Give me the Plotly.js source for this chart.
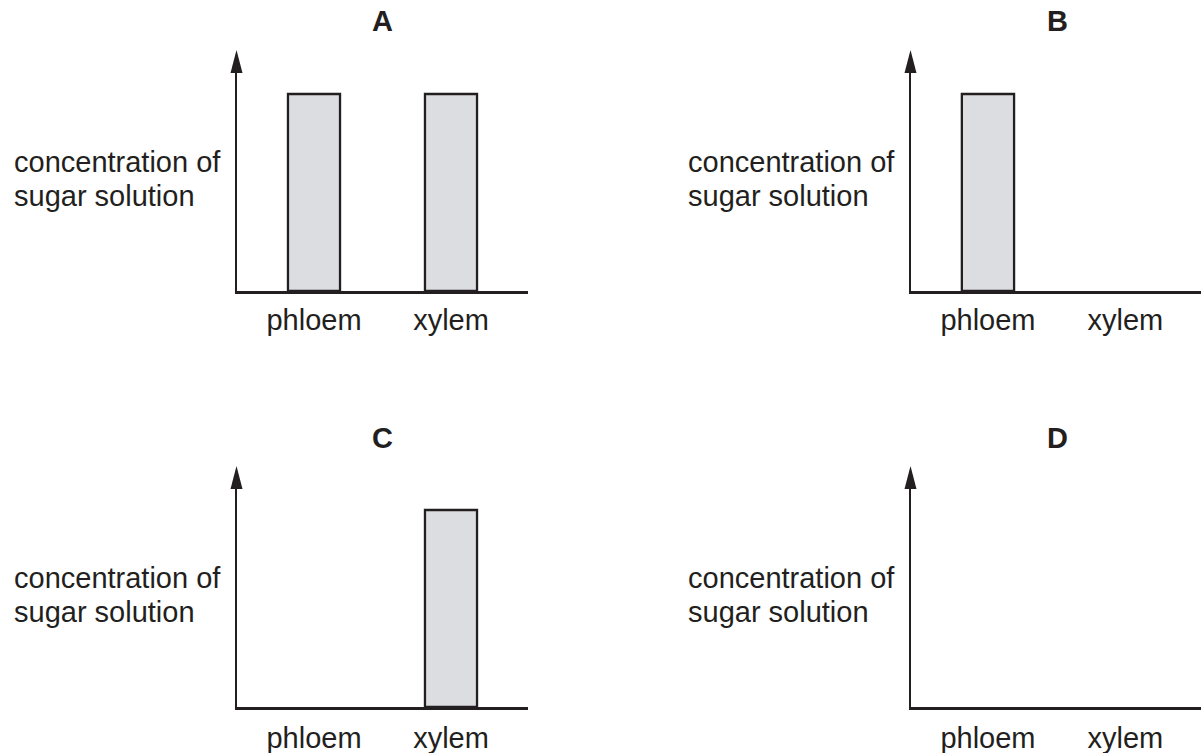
<!DOCTYPE html>
<html>
<head>
<meta charset="utf-8">
<script src="https://cdn.plot.ly/plotly-3.0.1.min.js"></script>
<style>html,body{margin:0;padding:0;background:#fff;}#chart{width:1201px;height:753px;}</style>
</head>
<body>
<div id="chart"></div>
<script>
// ---- data ----
var categories = ["phloem", "xylem"];
var panelNames = ["A", "B", "C", "D"];
var valuesA = [1, 1];
var valuesB = [1, 0];
var valuesC = [0, 1];
var valuesD = [0, 0];
var yLabelLines = ["concentration of", "sugar solution"];

// ---- styling ----
var W = 1201, H = 753;
var ink = "#231f20";
var fillGrey = "#dcdde0";
var fontFam = "Liberation Sans, Arial, Helvetica, sans-serif";
var fs = 29;

function px2x(p){ return p / W; }
function px2y(p){ return 1 - p / H; }

// panel geometry (pixels)
var panels = [
  {name: panelNames[0], vals: valuesA, left: 237, right: 528, top: 73, bottom: 291, xr: [-0.562, 1.562], labelX: 12, titleX: 383, titleY: 21, l1: 162, l2: 196, so: 2},
  {name: panelNames[1], vals: valuesB, left: 911, right: 1201, top: 73, bottom: 291, xr: [-0.56, 1.55], labelX: 686, titleX: 1057, titleY: 21, l1: 162, l2: 196, so: 2},
  {name: panelNames[2], vals: valuesC, left: 237, right: 528, top: 489, bottom: 707, xr: [-0.562, 1.562], labelX: 12, titleX: 383, titleY: 438, l1: 578, l2: 612, so: 4},
  {name: panelNames[3], vals: valuesD, left: 911, right: 1201, top: 489, bottom: 707, xr: [-0.56, 1.55], labelX: 686, titleX: 1057, titleY: 438, l1: 578, l2: 612, so: 4}
];

var yTop = 218 / 197; // axis extends above bar top

var traces = [];
var layout = {
  width: W, height: H,
  margin: {l: 0, r: 0, t: 0, b: 0, pad: 0},
  paper_bgcolor: "#fff", plot_bgcolor: "rgba(0,0,0,0)",
  showlegend: false,
  font: {family: fontFam, color: ink, size: fs},
  annotations: [],
  shapes: []
};

panels.forEach(function(p, i){
  var n = i === 0 ? "" : String(i + 1);
  var xa = "x" + n, ya = "y" + n;
  traces.push({
    type: "bar",
    x: categories,
    y: p.vals,
    xaxis: xa, yaxis: ya,
    width: 0.38,
    marker: {color: fillGrey, line: {color: ink, width: p.vals.map(function(v){ return v > 0 ? 2.3 : 0; })}},
    hoverinfo: "skip"
  });
  layout["xaxis" + n] = {
    domain: [px2x(p.left), px2x(p.right)],
    anchor: ya,
    range: p.xr,
    type: "category",
    showgrid: false, zeroline: false,
    showline: true, linecolor: ink, linewidth: 2.5,
    ticks: "", ticklabelstandoff: p.so,
    tickfont: {family: fontFam, size: fs, color: ink},
    fixedrange: true
  };
  layout["yaxis" + n] = {
    domain: [px2y(p.bottom), px2y(p.top)],
    anchor: xa,
    range: [0, yTop],
    showgrid: false, zeroline: false,
    showline: true, linecolor: ink, linewidth: 2.5,
    ticks: "", showticklabels: false,
    fixedrange: true
  };
  // arrowhead on the y axis
  layout.shapes.push({
    type: "path",
    xref: xa + " domain", yref: ya + " domain",
    xsizemode: "pixel", ysizemode: "pixel",
    xanchor: 0, yanchor: 1,
    path: "M-6.5,0 L5.5,0 L-0.5,23 Z",
    fillcolor: ink, line: {width: 0}
  });
  // panel title
  layout.annotations.push({
    xref: "paper", yref: "paper",
    x: px2x(p.titleX), y: px2y(p.titleY),
    xanchor: "center", yanchor: "middle",
    text: "<b>" + p.name + "</b>", showarrow: false,
    font: {family: fontFam, size: fs, color: ink}
  });
  // y label lines
  [p.l1, p.l2].forEach(function(yy, k){
    layout.annotations.push({
      xref: "paper", yref: "paper",
      x: px2x(p.labelX), y: px2y(yy),
      xanchor: "left", yanchor: "middle", align: "left",
      text: yLabelLines[k], showarrow: false,
      font: {family: fontFam, size: fs, color: ink}
    });
  });
});

Plotly.newPlot("chart", traces, layout, {displayModeBar: false, staticPlot: true});
</script>
</body>
</html>
